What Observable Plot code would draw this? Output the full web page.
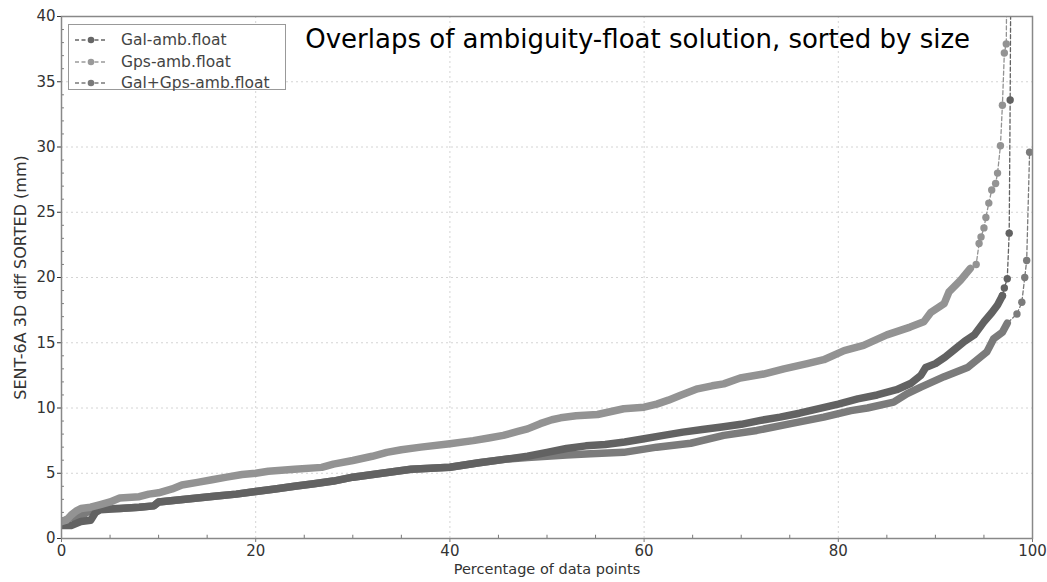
<!DOCTYPE html>
<html><head><meta charset="utf-8">
<script src="https://cdn.jsdelivr.net/npm/d3@7"></script>
<script src="https://cdn.jsdelivr.net/npm/@observablehq/plot@0.6"></script>
<style>
body{margin:0;background:#fff;font-family:"DejaVu Sans",sans-serif;}
#wrap{position:relative;width:1047px;height:582px;overflow:hidden;}
#legend{position:absolute;left:68px;top:24px;width:218px;height:66px;border:1px solid #999;background:#fff;box-sizing:border-box;}
.item{position:absolute;left:4px;height:20px;display:flex;align-items:center;font-size:15.5px;color:#444;white-space:nowrap;}
.item svg{margin-right:12px;}
</style></head>
<body><div id="wrap"><div id="chart"></div><div id="legend"></div></div>
<script>
// ---- data ----
const seriesNames = ["Gal-amb.float", "Gps-amb.float", "Gal+Gps-amb.float"];
const galX = [0,1,2,3,3.5,4,6,8,9.5,10,12,14,16,18,20,22,24,26,28,30,33,36,40,43,46,48,50,52,54,56,58,60,62,64,66,68,70,72,74,76,78,80,82,84,86,87.5,88.5,89,90,91,92,93,94,95,95.8,96.4,96.9,97.1,97.4,97.6,97.7,97.8];
const galY = [1.0,1.0,1.3,1.4,2.0,2.2,2.3,2.4,2.5,2.8,2.95,3.1,3.25,3.4,3.6,3.8,4.0,4.2,4.4,4.7,5.0,5.3,5.46,5.8,6.1,6.3,6.6,6.9,7.1,7.2,7.4,7.64,7.9,8.15,8.35,8.55,8.75,9.05,9.3,9.6,9.95,10.3,10.7,11.0,11.4,11.9,12.5,13.1,13.4,13.9,14.5,15.1,15.6,16.6,17.3,17.9,18.6,19.2,19.9,23.4,33.6,48];
const gpsX = [0,0.5,1,1.5,2,3,4,5,6,8,9,10,11.4,12.4,14,15.5,17,18.6,20,21.3,24,26.8,28,30,32,33.5,35,37,40,42.4,44,45.5,47,48,49.3,50.5,51.4,53,55.2,57.9,60,61.3,62.5,63.7,65.5,67,68.2,69.9,72.3,74.4,76.8,78.5,80.6,82.6,85,87.4,88.8,89.5,90.9,91.4,92.6,93.6,94.2,94.5,94.7,95,95.2,95.5,95.8,96.2,96.4,96.7,96.9,97.1,97.3,97.4];
const gpsY = [1.3,1.4,1.8,2.1,2.3,2.4,2.6,2.8,3.1,3.2,3.4,3.5,3.8,4.1,4.3,4.5,4.7,4.9,5.0,5.15,5.3,5.45,5.7,5.98,6.3,6.6,6.8,7.0,7.26,7.5,7.7,7.9,8.2,8.4,8.8,9.1,9.25,9.4,9.5,9.94,10.06,10.3,10.6,10.96,11.47,11.7,11.85,12.3,12.6,13.0,13.4,13.7,14.4,14.8,15.6,16.2,16.6,17.3,18.0,18.9,19.8,20.7,21.0,22.6,23.1,23.8,24.6,25.7,26.7,27.2,28.0,30.1,33.2,37.2,37.9,48];
const bothX = [0,1,2,3,4,6,8,9.5,10,12,14,16,18,20,22,24,26,28,30,33,36,40,43,46,48,50,52,54.5,57.9,61.3,64.8,68.2,71.6,75.1,78.5,81.3,83,85.7,87.1,88.5,90.9,93.3,95.3,96,96.9,97.4,98.4,98.9,99.2,99.4,99.7];
const bothY = [1.3,1.6,1.7,2.2,2.3,2.3,2.4,2.5,2.8,2.95,3.1,3.25,3.4,3.6,3.8,4.0,4.2,4.4,4.7,5.0,5.3,5.46,5.8,6.1,6.2,6.3,6.4,6.5,6.6,7.0,7.3,7.9,8.28,8.8,9.3,9.8,10.0,10.45,11.1,11.6,12.4,13.1,14.3,15.3,15.8,16.5,17.2,18.1,20.0,21.3,29.6];
const xTicks = [0,20,40,60,80,100];
const yTicks = [0,5,10,15,20,25,30,35,40];
const xMinor = [5,10,15,25,30,35,45,50,55,65,70,75,85,90,95];
const yMinor = [1,2,3,4,6,7,8,9,11,12,13,14,16,17,18,19,21,22,23,24,26,27,28,29,31,32,33,34,36,37,38,39];
const annotation = "Overlaps of ambiguity-float solution, sorted by size";
const xLabel = "Percentage of data points";
const yLabel = "SENT-6A 3D diff SORTED (mm)";

// ---- styling ----
const colors = ["#626262", "#939393", "#7b7b7b"];
const tailStart = [97.0, 94.1, 98.3]; // where points become sparse
const series = [[galX,galY],[gpsX,gpsY],[bothX,bothY]].map(([xs,ys],i) =>
  xs.map((x,j) => ({x, y: ys[j], s: seriesNames[i]})));

const marks = [
  Plot.gridX(xTicks, {stroke:"#d4d4d4", strokeOpacity:1, strokeDasharray:"2,3"}),
  Plot.gridY(yTicks, {stroke:"#d4d4d4", strokeOpacity:1, strokeDasharray:"2,3"}),
  Plot.ruleX(xMinor, {x:d=>d, y1:0, y2:0.25, stroke:"#777"}),
  Plot.ruleY(yMinor, {y:d=>d, x1:0, x2:0.3, stroke:"#777"}),
];
for (const i of [2,0,1]) {
  const d = series[i], c = colors[i];
  const body = d.filter(p => p.x <= tailStart[i]);
  const tail = d.filter(p => p.x > tailStart[i] - 0.5);
  marks.push(Plot.line(d, {x:"x", y:"y", stroke:c, strokeWidth:1.3, strokeDasharray:"4,2.5", clip:true}));
  marks.push(Plot.line(body, {x:"x", y:"y", stroke:c, strokeWidth:7.5, strokeLinejoin:"round", strokeLinecap:"round", clip:true}));
  marks.push(Plot.dot(tail, {x:"x", y:"y", r:3.7, fill:c, stroke:"none", clip:true}));
}
marks.push(
  Plot.axisX({ticks:xTicks, tickSize:4, fontSize:15, tickPadding:3, label:null, stroke:"#777"}),
  Plot.axisY({ticks:yTicks, tickSize:4, fontSize:15, tickPadding:2, label:null}),
  Plot.frame({stroke:"#888", strokeWidth:1.5}),
  Plot.text([annotation], {x:25.1, y:38.2, text:d=>d, textAnchor:"start", fontSize:26, fill:"#000"}),
  Plot.text([xLabel], {frameAnchor:"bottom", dy:35, text:d=>d, fontSize:14.5, fill:"#333"}),
  Plot.text([yLabel], {frameAnchor:"left", dx:-41, rotate:-90, textAnchor:"middle", text:d=>d, fontSize:16, fill:"#333"})
);

const chart = Plot.plot({
  width:1047, height:582,
  marginLeft:61, marginRight:15, marginTop:16, marginBottom:44,
  x:{domain:[0,100]}, y:{domain:[0,40]},
  style:{fontFamily:"DejaVu Sans, sans-serif", color:"#333", background:"#fff"},
  marks
});
document.getElementById("chart").appendChild(chart);

// ---- legend ----
const legend = document.getElementById("legend");
const legendColors = ["#666", "#9a9a9a", "#7a7a7a"];
seriesNames.forEach((n,i) => {
  const div = document.createElement("div");
  div.className = "item";
  div.style.top = (5 + i*21.5) + "px";
  div.innerHTML = `<svg width="36" height="10"><line x1="2" x2="34" y1="5" y2="5" stroke="${legendColors[i]}" stroke-width="1.3" stroke-dasharray="4,2.5"/><circle cx="18" cy="5" r="3.3" fill="${legendColors[i]}"/></svg><span>${n}</span>`;
  legend.appendChild(div);
});
</script></body></html>
